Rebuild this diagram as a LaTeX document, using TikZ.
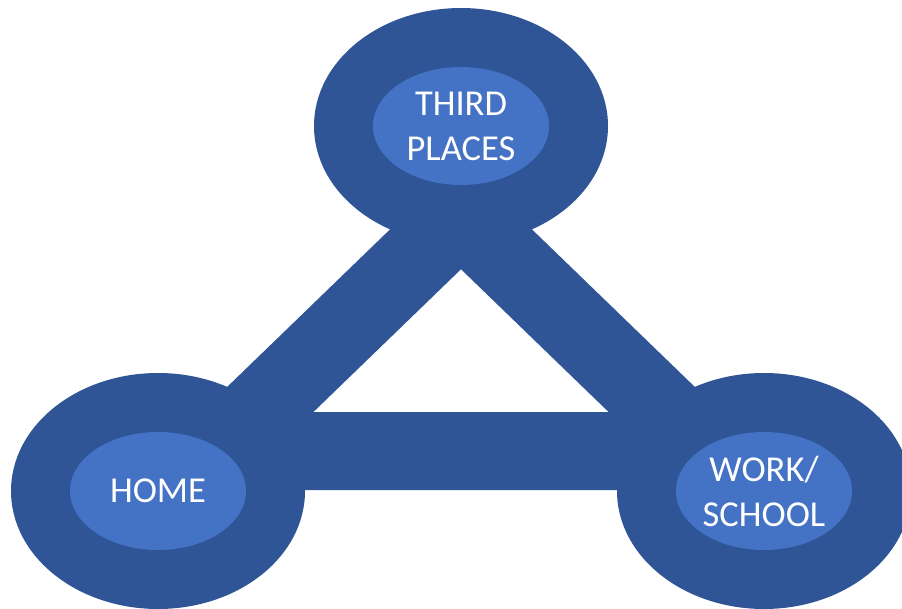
\documentclass[tikz,border=0pt]{standalone}
\usepackage{fontspec}
\setmainfont{Carlito}
\usetikzlibrary{shapes.geometric}
\definecolor{ringBlue}{HTML}{2F5597}
\definecolor{coreBlue}{HTML}{4472C4}
\tikzset{%
  % Specifications for style of nodes:
       ring/.style = {ellipse, fill=ringBlue, inner sep=0pt,
                      minimum width=294pt, minimum height=236pt},
      place/.style = {ellipse, fill=coreBlue, inner sep=0pt,
                      minimum width=176pt, minimum height=118pt,
                      text=white, align=center,
                      font=\fontsize{36.5}{45}\selectfont},
       link/.style = {draw=ringBlue, line width=78pt, line join=round},
}

\begin{document}
\begin{tikzpicture}[x=1pt, y=-1pt]
  \useasboundingbox (0,0) rectangle (902,608);
  \clip (0,0) rectangle (902,608);

  % Corners of the triangle between the three places
  \coordinate (thirdCorner) at (461,215);
  \coordinate (homeCorner)  at (217,451);
  \coordinate (workCorner)  at (705,451);

  % Specification of lines between the places
  \draw[link] (homeCorner) -- (thirdCorner) -- (workCorner) -- cycle;

  % Specification of nodes (position, etc.)
  \node (thirdRing) [ring] at (461,126) {};
  \node (homeRing)  [ring] at (158,491) {};
  \node (workRing)  [ring] at (764,491) {};

  \node (thirdPlaces) [place] at (thirdRing) {THIRD\\PLACES};
  \node (home)        [place] at (homeRing)  {HOME};
  \node (workSchool)  [place] at (workRing)  {WORK/\\SCHOOL};
\end{tikzpicture}
\end{document}
